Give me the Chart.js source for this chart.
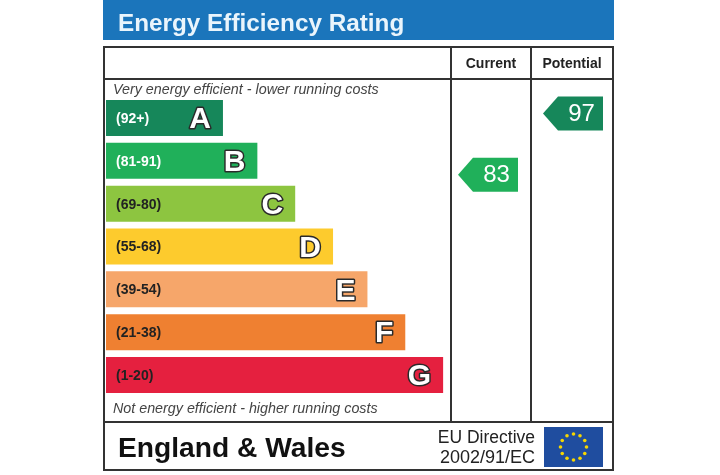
<!DOCTYPE html>
<html lang="en">
<head>
<meta charset="UTF-8">
<title>Energy Efficiency Rating</title>
<script src="https://cdn.jsdelivr.net/npm/chart.js"></script>
<style>
    html, body { margin: 0; padding: 0; background: #fff; }
    #wrap { width: 720px; height: 475px; }
</style>
</head>
<body>
<div id="wrap"><canvas id="epc" width="720" height="475"></canvas></div>
<script>
// bandes EPC
const bands = ['A', 'B', 'C', 'D', 'E', 'F', 'G'];
const rangeLabels = ['(92+)', '(81-91)', '(69-80)', '(55-68)', '(39-54)', '(21-38)', '(1-20)'];
const rangeLow = [92, 81, 69, 55, 39, 21, 1];
const rangeHigh = [100, 91, 80, 68, 54, 38, 20];
const barLength = [34, 44, 55, 66, 76, 87, 98];
const bandColors = ['#16875a', '#20b05a', '#8dc540', '#fdcb2d', '#f6a66a', '#ef8031', '#e5203f'];
const rangeTextColors = ['#fff', '#fff', '#222', '#222', '#222', '#222', '#222'];
const currentRating = 83;
const potentialRating = 97;

const FONT = '"Liberation Sans", Arial, sans-serif';
const frame = { left: 104, right: 613, top: 47, bottom: 470, header: 79, footer: 422, col1: 451, col2: 531 };

function bandOf(v) {
    for (let i = 0; i < bands.length; i++) {
        if (v >= rangeLow[i] && v <= rangeHigh[i]) return i;
    }
    return bands.length - 1;
}

function drawArrow(ctx, chart, value, tipX) {
    const y = chart.scales.y;
    const i = bandOf(value);
    const step = y.getPixelForValue(1) - y.getPixelForValue(0);
    const frac = (value - rangeLow[i]) / (rangeHigh[i] - rangeLow[i]);
    const cy = y.getPixelForValue(i) + (0.5 - frac) * step + 1;
    const w = 60, h = 34, tip = 15;
    ctx.fillStyle = bandColors[i];
    ctx.beginPath();
    ctx.moveTo(tipX, cy);
    ctx.lineTo(tipX + tip, cy - h / 2);
    ctx.lineTo(tipX + w, cy - h / 2);
    ctx.lineTo(tipX + w, cy + h / 2);
    ctx.lineTo(tipX + tip, cy + h / 2);
    ctx.closePath();
    ctx.fill();
    ctx.fillStyle = '#fff';
    ctx.font = '24px ' + FONT;
    ctx.textAlign = 'center';
    ctx.textBaseline = 'middle';
    ctx.fillText(String(value), tipX + tip + (w - tip) / 2 + 1, cy + 1);
}

function drawFlag(ctx, x, y, w, h) {
    ctx.fillStyle = '#1f4d9f';
    ctx.fillRect(x, y, w, h);
    const cx = x + w / 2, cy = y + h / 2, r = 13;
    ctx.fillStyle = '#f6d600';
    for (let k = 0; k < 12; k++) {
        const a = k * Math.PI / 6;
        ctx.beginPath();
        ctx.arc(cx + r * Math.cos(a), cy + r * Math.sin(a), 1.8, 0, Math.PI * 2);
        ctx.fill();
    }
}

const epcPlugin = {
    id: 'epcFrame',
    beforeDraw(chart) {
        const ctx = chart.ctx;
        ctx.save();
        ctx.fillStyle = '#fff';
        ctx.fillRect(0, 0, chart.width, chart.height);
        // bandeau titre
        ctx.fillStyle = '#1b75bb';
        ctx.fillRect(103, 0, 511, 40);
        ctx.fillStyle = '#eaf5fc';
        ctx.font = 'bold 24.3px ' + FONT;
        ctx.textAlign = 'left';
        ctx.textBaseline = 'alphabetic';
        ctx.fillText('Energy Efficiency Rating', 118, 31);
        ctx.restore();
    },
    afterDatasetsDraw(chart) {
        const ctx = chart.ctx;
        const meta = chart.getDatasetMeta(0);
        ctx.save();
        // cadre
        ctx.strokeStyle = '#333';
        ctx.lineWidth = 2;
        ctx.strokeRect(frame.left, frame.top, frame.right - frame.left, frame.bottom - frame.top);
        ctx.beginPath();
        ctx.moveTo(frame.left, frame.header); ctx.lineTo(frame.right, frame.header);
        ctx.moveTo(frame.left, frame.footer); ctx.lineTo(frame.right, frame.footer);
        ctx.moveTo(frame.col1, frame.top); ctx.lineTo(frame.col1, frame.footer);
        ctx.moveTo(frame.col2, frame.top); ctx.lineTo(frame.col2, frame.footer);
        ctx.stroke();

        // entetes
        ctx.fillStyle = '#222';
        ctx.font = 'bold 14px ' + FONT;
        ctx.textAlign = 'center';
        ctx.textBaseline = 'alphabetic';
        ctx.fillText('Current', (frame.col1 + frame.col2) / 2, 68);
        ctx.fillText('Potential', (frame.col2 + frame.right) / 2, 68);

        ctx.fillStyle = '#444';
        ctx.font = 'italic 14.3px ' + FONT;
        ctx.textAlign = 'left';
        ctx.fillText('Very energy efficient - lower running costs', 113, 94);
        ctx.fillText('Not energy efficient - higher running costs', 113, 413);

        // libelles des bandes
        meta.data.forEach((bar, i) => {
            const left = bar.base, right = bar.x, cy = bar.y;
            ctx.textBaseline = 'middle';
            ctx.textAlign = 'left';
            ctx.font = 'bold 14px ' + FONT;
            ctx.fillStyle = rangeTextColors[i];
            ctx.fillText(rangeLabels[i], left + 10, cy + 1);

            ctx.textAlign = 'right';
            ctx.font = 'bold 30px ' + FONT;
            ctx.lineJoin = 'round';
            ctx.lineWidth = 3;
            ctx.strokeStyle = '#2a2a2a';
            ctx.strokeText(bands[i], right - 12, cy + 2);
            ctx.fillStyle = '#fff';
            ctx.fillText(bands[i], right - 12, cy + 2);
        });

        drawArrow(ctx, chart, currentRating, frame.col1 + 7);
        drawArrow(ctx, chart, potentialRating, frame.col2 + 12);

        // pied
        ctx.fillStyle = '#111';
        ctx.textBaseline = 'alphabetic';
        ctx.textAlign = 'left';
        ctx.font = 'bold 28.2px ' + FONT;
        ctx.fillText('England & Wales', 118, 457);
        ctx.fillStyle = '#222';
        ctx.textAlign = 'right';
        ctx.font = '17.5px ' + FONT;
        ctx.fillText('EU Directive', 535, 443);
        ctx.font = '18px ' + FONT;
        ctx.fillText('2002/91/EC', 535, 463);
        drawFlag(ctx, 544, 427, 59, 40);
        ctx.restore();
    }
};

new Chart(document.getElementById('epc').getContext('2d'), {
    type: 'bar',
    data: {
        labels: bands,
        datasets: [{
            data: barLength,
            backgroundColor: bandColors,
            borderWidth: 0,
            categoryPercentage: 1,
            barPercentage: 0.84
        }]
    },
    options: {
        indexAxis: 'y',
        responsive: false,
        animation: false,
        devicePixelRatio: 1,
        layout: { padding: { left: 106, right: 270, top: 96.5, bottom: 78.5 } },
        scales: {
            x: { display: false, min: 0, max: 100 },
            y: { display: false }
        },
        plugins: { legend: { display: false }, tooltip: { enabled: false } }
    },
    plugins: [epcPlugin]
});
</script>
</body>
</html>
